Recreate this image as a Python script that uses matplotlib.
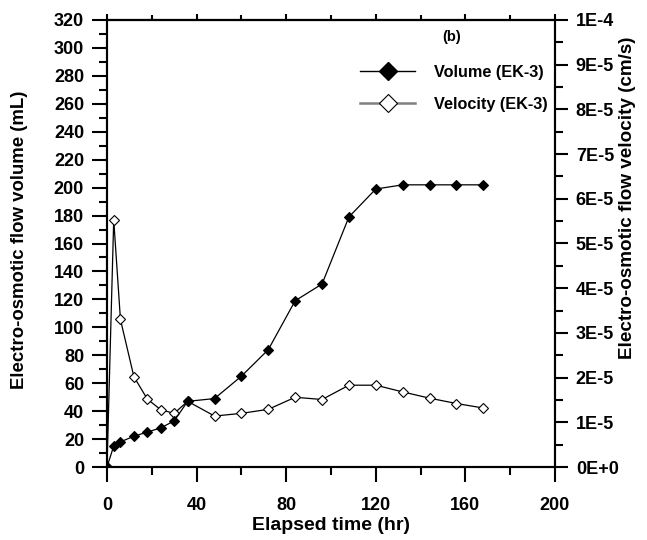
import matplotlib
matplotlib.use("Agg")
import matplotlib.pyplot as plt
from matplotlib.ticker import MultipleLocator, FuncFormatter
from matplotlib.lines import Line2D

plt.rcParams['font.family'] = ['Liberation Sans', 'DejaVu Sans']
plt.rcParams['font.weight'] = 'bold'

time_hr = [0, 3, 6, 12, 18, 24, 30, 36, 48, 60, 72, 84, 96, 108, 120, 132, 144, 156, 168]
volume_ml = [0, 15, 18, 22, 25, 28, 33, 47, 49, 65, 84, 119, 131, 179, 199, 202, 202, 202, 202]
velocity_cms = [0, 5.53e-5, 3.30e-5, 2.02e-5, 1.52e-5, 1.28e-5, 1.20e-5, 1.47e-5, 1.14e-5,
                1.20e-5, 1.29e-5, 1.56e-5, 1.51e-5, 1.83e-5, 1.83e-5, 1.68e-5, 1.54e-5,
                1.42e-5, 1.32e-5]
right_tick_labels = ["0E+0", "1E-5", "2E-5", "3E-5", "4E-5", "5E-5", "6E-5", "7E-5", "8E-5", "9E-5", "1E-4"]

W, H = 647, 540
fig = plt.figure(figsize=(W / 100, H / 100), dpi=100)
ax = fig.add_axes([107 / W, 1 - 467 / H, 448 / W, 447 / H])
ax2 = ax.twinx()

ax.plot(time_hr, volume_ml, color='black', lw=0.9, marker='D', ms=4.7,
        mfc='black', mec='black', mew=0.8, zorder=3)
ax2.plot(time_hr, velocity_cms, color='black', lw=0.9, marker='D', ms=4.7,
         mfc='white', mec='black', mew=0.8, zorder=2)
ax.set_zorder(ax2.get_zorder() + 1)
ax.patch.set_visible(False)

ax.set_xlim(0, 200)
ax.set_ylim(0, 320)
ax2.set_ylim(0, 1e-4)

for a in (ax, ax2):
    for s in a.spines.values():
        s.set_linewidth(1.5)

ax.xaxis.set_major_locator(MultipleLocator(40))
ax.xaxis.set_minor_locator(MultipleLocator(20))
ax.yaxis.set_major_locator(MultipleLocator(20))
ax.yaxis.set_minor_locator(MultipleLocator(10))
ax2.yaxis.set_major_locator(MultipleLocator(1e-5))
ax2.yaxis.set_minor_locator(MultipleLocator(0.5e-5))
ax2.yaxis.set_major_formatter(FuncFormatter(
    lambda v, p: right_tick_labels[int(round(v / 1e-5))] if 0 <= int(round(v / 1e-5)) < len(right_tick_labels) else ""))

ax.tick_params(axis='x', which='major', direction='out', length=10.5, width=1.5, labelsize=13, pad=11)
ax.tick_params(axis='x', which='minor', direction='out', length=5.5, width=1.5)
ax.tick_params(axis='y', which='major', direction='out', length=10.5, width=1.5, labelsize=13, pad=6)
ax.tick_params(axis='y', which='minor', direction='out', length=5.5, width=1.5)
ax2.tick_params(axis='y', which='major', direction='out', length=9, width=1.5, labelsize=13, pad=6)
ax2.tick_params(axis='y', which='minor', direction='out', length=5.5, width=1.5)

secx = ax.secondary_xaxis('top')
secx.xaxis.set_major_locator(MultipleLocator(40))
secx.xaxis.set_minor_locator(MultipleLocator(20))
secx.tick_params(axis='x', which='major', direction='out', length=4.5, width=1.5, labeltop=False)
secx.tick_params(axis='x', which='minor', direction='out', length=3.5, width=1.5)
secx.spines['top'].set_linewidth(1.5)

for lab in ax.get_xticklabels() + ax.get_yticklabels() + ax2.get_yticklabels():
    lab.set_fontweight('bold')

ax.set_xlabel("Elapsed time (hr)", fontsize=14, fontweight='bold', labelpad=2)
ax.set_ylabel("Electro-osmotic flow volume (mL)", fontsize=13.4, fontweight='bold')
ax2.set_ylabel("Electro-osmotic flow velocity (cm/s)", fontsize=13.6, fontweight='bold')
ax.yaxis.set_label_coords((28 - 107) / 448, 0.508)
ax2.yaxis.set_label_coords((619 - 107) / 448, 0.602)

ax.text(154, 308, "(b)", fontsize=10.5, fontweight='bold', ha='center', va='center')

h1 = Line2D([], [], color='black', lw=1.0, marker='D', ms=9, mfc='black', mec='black')
h2 = Line2D([], [], color='#808080', lw=1.8, marker='D', ms=9, mfc='white', mec='black', mew=0.8)
leg = ax.legend([h1, h2], ["Volume (EK-3)", "Velocity (EK-3)"], loc='upper left',
                bbox_to_anchor=((360 - 107) / 448, (467 - 65) / 447), frameon=False,
                borderpad=0, borderaxespad=0, handlelength=3.4, handletextpad=1.15,
                labelspacing=1.05, prop={'weight': 'bold', 'size': 11.7})

fig.savefig("out.png", dpi=100)
